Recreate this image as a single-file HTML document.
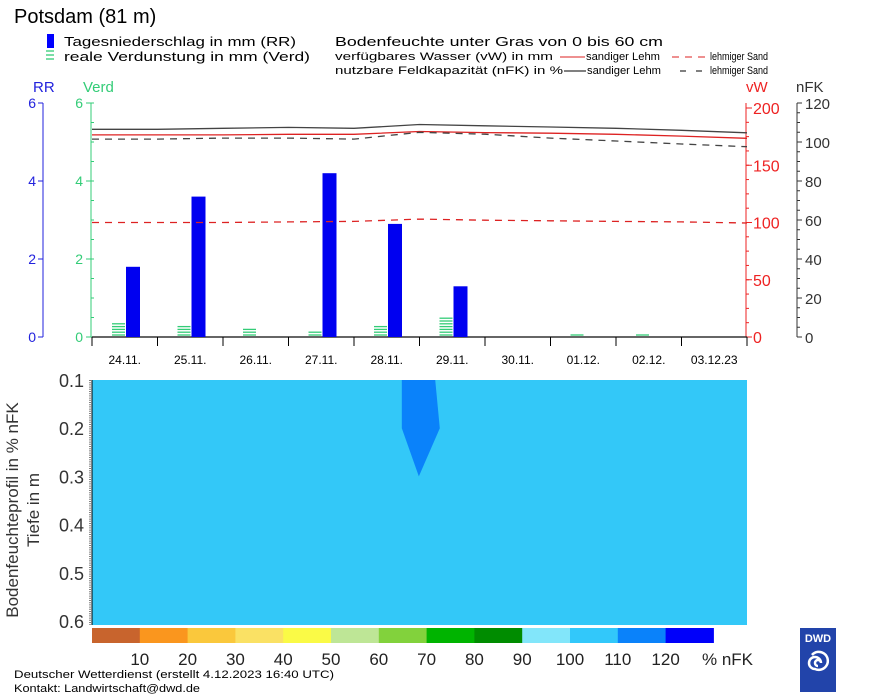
<!DOCTYPE html>
<html><head><meta charset="utf-8"><style>
body{margin:0;background:#fff;}
svg{display:block;font-family:"Liberation Sans Narrow","Liberation Sans",sans-serif;}
</style></head><body>
<svg id="c" width="873" height="698" viewBox="0 0 873 698" xmlns="http://www.w3.org/2000/svg">
<g>
<text x="14" y="23" font-size="20" fill="#000">Potsdam (81 m)</text>
<rect x="47" y="34" width="7" height="14" fill="#0000ff"/>
<text x="64" y="46" font-size="13" textLength="232" lengthAdjust="spacingAndGlyphs">Tagesniederschlag in mm (RR)</text>
<g stroke="#33cc77" stroke-width="1.3"><line x1="46" y1="51" x2="54" y2="51"/><line x1="46" y1="55" x2="54" y2="55"/><line x1="46" y1="59" x2="54" y2="59"/></g>
<text x="64" y="61" font-size="13" textLength="246" lengthAdjust="spacingAndGlyphs">reale Verdunstung in mm (Verd)</text>
<text x="335" y="46" font-size="13" textLength="328" lengthAdjust="spacingAndGlyphs">Bodenfeuchte unter Gras von 0 bis 60 cm</text>
<text x="335" y="60" font-size="11" textLength="218" lengthAdjust="spacingAndGlyphs">verfügbares Wasser (vW) in mm</text>
<line x1="560" y1="57" x2="585" y2="57" stroke="#dd2222"/>
<text x="586" y="60" font-size="11" textLength="74" lengthAdjust="spacingAndGlyphs">sandiger Lehm</text>
<line x1="672" y1="57" x2="708" y2="57" stroke="#dd2222" stroke-dasharray="7,6"/>
<text x="710" y="60" font-size="11" textLength="58" lengthAdjust="spacingAndGlyphs">lehmiger Sand</text>
<text x="335" y="74" font-size="11" textLength="228" lengthAdjust="spacingAndGlyphs">nutzbare Feldkapazität (nFK) in %</text>
<line x1="564" y1="71" x2="586" y2="71" stroke="#000"/>
<text x="587" y="74" font-size="11" textLength="74" lengthAdjust="spacingAndGlyphs">sandiger Lehm</text>
<line x1="680" y1="71" x2="708" y2="71" stroke="#000" stroke-dasharray="6,10"/>
<text x="710" y="74" font-size="11" textLength="58" lengthAdjust="spacingAndGlyphs">lehmiger Sand</text>
</g>
<text x="33" y="92" font-size="15" fill="#2222dd">RR</text>
<text x="83" y="92" font-size="15" fill="#33cc77">Verd</text>
<text x="746" y="92" font-size="15" fill="#ee2222">vW</text>
<text x="796" y="92" font-size="15" fill="#333">nFK</text>
<g id="topPanel"></g>
<g id="botPanel"></g>
<g>
<text x="14" y="678" font-size="11" textLength="320" lengthAdjust="spacingAndGlyphs">Deutscher Wetterdienst (erstellt 4.12.2023 16:40 UTC)</text>
<text x="14" y="692" font-size="11" textLength="186" lengthAdjust="spacingAndGlyphs">Kontakt: Landwirtschaft@dwd.de</text>
<g>
<rect x="800" y="628" width="36" height="64" fill="#2244aa"/>
<text x="818" y="642" font-size="11" font-weight="bold" fill="#fff" text-anchor="middle">DWD</text>
<path d="M818 666 a3 3 0 1 1 3 -3 a6 6 0 1 0 -6 6 a9 9 0 1 0 -3 -14" fill="none" stroke="#fff" stroke-width="2.5"/>
</g>
</g>
</svg>
<script>
const days=["24.11.","25.11.","26.11.","27.11.","28.11.","29.11.","30.11.","01.12.","02.12.","03.12.23"];
const rr=[1.8,3.6,0,4.2,2.9,1.3,0,0,0,0];
const verd=[0.4,0.3,0.25,0.15,0.3,0.5,0,0.03,0.03,0];
const nfkSL=[106.5,106.5,107,107.5,107,109,108.3,107.7,107,106,104.7];
const vwSL=[176.5,176.5,176.5,177,177,179.5,178.5,178,177,175.5,173.5];
const nfkLS=[101.5,101.5,102,102,101.5,105,104,102,100.5,99,97.6];
const vwLS=[100,100,100,100.5,101,103,102,101.5,101,100.5,99.6];
const rrTicks=[0,2,4,6];
const vwTicks=[0,50,100,150,200];
const nfkTicks=[0,20,40,60,80,100,120];
const depthTicks=[0.1,0.2,0.3,0.4,0.5,0.6];
const wedgeDepth=[0.1,0.2,0.3];
const wedgeLeft=[4.73,4.73,4.99];
const wedgeRight=[5.24,5.31,4.99];
const cbColors=["#c8642d","#fa961e","#fac83c","#fae164","#fafa46","#bee696","#82d23c","#00b400","#008c00","#82e6fa","#32c8fa","#0a82fa","#0000fa"];
const cbLabels=["10","20","30","40","50","60","70","80","90","100","110","120"];

const NS="http://www.w3.org/2000/svg";
function mk(p,t,a){const e=document.createElementNS(NS,t);for(const k in a)e.setAttribute(k,a[k]);p.appendChild(e);return e;}
const X0=92,DW=65.5,BASE=337;
const xDay=i=>X0+DW*i;
const yRR=v=>BASE-v*39;
const yNFK=v=>BASE-v*1.95;
const yVW=v=>BASE-v*1.145;
const tp=document.getElementById('topPanel');
let e=mk(tp,'line',{x1:43,y1:103,x2:43,y2:BASE,stroke:'#2222dd'});


e=mk(tp,'line',{x1:91,y1:103,x2:91,y2:BASE,stroke:'#33cc77'});


rrTicks.forEach(v=>{
 const y=yRR(v);
 mk(tp,'line',{x1:38,y1:y,x2:43,y2:y,stroke:'#2222dd'});
 const t=mk(tp,'text',{x:36,y:y+5,'font-size':14,fill:'#2222dd','text-anchor':'end'});t.textContent=v;
 
 
 mk(tp,'line',{x1:86,y1:y,x2:91,y2:y,stroke:'#33cc77'});
 const t2=mk(tp,'text',{x:83,y:y+5,'font-size':14,fill:'#33cc77','text-anchor':'end'});t2.textContent=v;
 
 
});
for(let v=0;v<=6;v+=0.5){mk(tp,'line',{x1:91,y1:yRR(v),x2:94,y2:yRR(v),stroke:'#33cc77'});}
e=mk(tp,'line',{x1:746,y1:103,x2:746,y2:BASE,stroke:'#ee2222'});


for(let v=0;v<=200;v+=12.5){mk(tp,'line',{x1:746,y1:yVW(v),x2:749,y2:yVW(v),stroke:'#ee2222'});}
vwTicks.forEach(v=>{const y=yVW(v);mk(tp,'line',{x1:746,y1:y,x2:752,y2:y,stroke:'#ee2222'});
 const t=mk(tp,'text',{x:753,y:y+6,'font-size':16,fill:'#ee2222'});t.textContent=v;
 
 });
e=mk(tp,'line',{x1:797,y1:103,x2:797,y2:BASE,stroke:'#333'});


for(let v=0;v<=120;v+=5){mk(tp,'line',{x1:797,y1:yNFK(v),x2:800,y2:yNFK(v),stroke:'#333'});}
nfkTicks.forEach(v=>{const y=yNFK(v);mk(tp,'line',{x1:797,y1:y,x2:802,y2:y,stroke:'#333'});
 const t=mk(tp,'text',{x:805,y:y+6,'font-size':15,fill:'#333'});t.textContent=v;
 
 });
e=mk(tp,'line',{x1:X0,y1:BASE,x2:xDay(10),y2:BASE,stroke:'#333',"stroke-width":1.5});


for(let i=0;i<=10;i++)mk(tp,'line',{x1:xDay(i),y1:BASE,x2:xDay(i),y2:BASE+9,stroke:'#000'});
days.forEach((d,i)=>{const t=mk(tp,'text',{x:xDay(i)+DW/2,y:364,'font-size':12,'text-anchor':'middle'});t.textContent=d;
 
 });
rr.forEach((v,i)=>{if(v<=0)return;
 const b=mk(tp,'rect',{x:xDay(i)+34,y:yRR(v),width:14,height:BASE-yRR(v),fill:'#0000f0'});
 
 });
verd.forEach((v,i)=>{if(v<=0)return;
 const n=Math.max(1,Math.round(v*39/3));
 const g=mk(tp,'g',{stroke:'#33cc77','stroke-width':1.3});
 
 
 for(let k=0;k<n;k++){const y=BASE-2-k*2.8;mk(g,'line',{x1:xDay(i)+20,y1:y,x2:xDay(i)+33,y2:y});}});
function line(arr,fy,col,dash,name){
 const pts=arr.map((v,i)=>xDay(i)+','+fy(v).toFixed(1)).join(' ');
 const p=mk(tp,'polyline',{points:pts,fill:'none',stroke:col,'stroke-width':1.3});
 if(dash)p.setAttribute('stroke-dasharray',dash);
 
 }
line(nfkSL,yNFK,'#444',null,'nfk-sandy-loam-line');
line(vwSL,yVW,'#dd2222',null,'vw-sandy-loam-line');
line(nfkLS,yNFK,'#444','7,6','nfk-loamy-sand-line');
line(vwLS,yVW,'#dd2222','7,6','vw-loamy-sand-line');

const bot=document.getElementById('botPanel');
const PY0=380,PY1=625;
const yD=d=>PY0+(d-0.1)/0.5*(PY1-PY0-4);
const xT=t=>X0+DW*t;
e=mk(bot,'rect',{x:X0,y:PY0,width:xDay(10)-X0,height:PY1-PY0,fill:'#33c8f8'});


const wpts=wedgeDepth.map((d,i)=>xT(wedgeLeft[i])+','+yD(d)).concat(wedgeDepth.map((d,i)=>xT(wedgeRight[i])+','+yD(d)).reverse()).join(' ');
e=mk(bot,'polygon',{points:wpts,fill:'#0a82fa'});


mk(bot,'line',{x1:90,y1:PY0,x2:90,y2:PY1,stroke:'#000','stroke-dasharray':'1,1.2'});
mk(bot,'line',{x1:92,y1:PY0,x2:92,y2:PY1,stroke:'#000'});
depthTicks.forEach(d=>{const t=mk(bot,'text',{x:84,y:yD(d)+7,'font-size':18,fill:'#333','text-anchor':'end'});t.textContent=d.toFixed(1);
 
 });
e=mk(bot,'text',{x:0,y:0,'font-size':17,fill:'#333','text-anchor':'middle',transform:'translate(18,510) rotate(-90)'});e.textContent='Bodenfeuchteprofil in % nFK';


e=mk(bot,'text',{x:0,y:0,'font-size':17,fill:'#333','text-anchor':'middle',transform:'translate(39,510) rotate(-90)'});e.textContent='Tiefe in m';


const CW=47.8;
cbColors.forEach((c,i)=>{const r=mk(bot,'rect',{x:X0+CW*i,y:628,width:CW+0.5,height:15,fill:c});
 
 });
cbLabels.forEach((l,i)=>{const t=mk(bot,'text',{x:X0+CW*(i+1),y:665,'font-size':17,fill:'#222','text-anchor':'middle'});t.textContent=l;
 
 });
e=mk(bot,'text',{x:702,y:665,'font-size':17,fill:'#222'});e.textContent='% nFK';


</script>
</body></html>
